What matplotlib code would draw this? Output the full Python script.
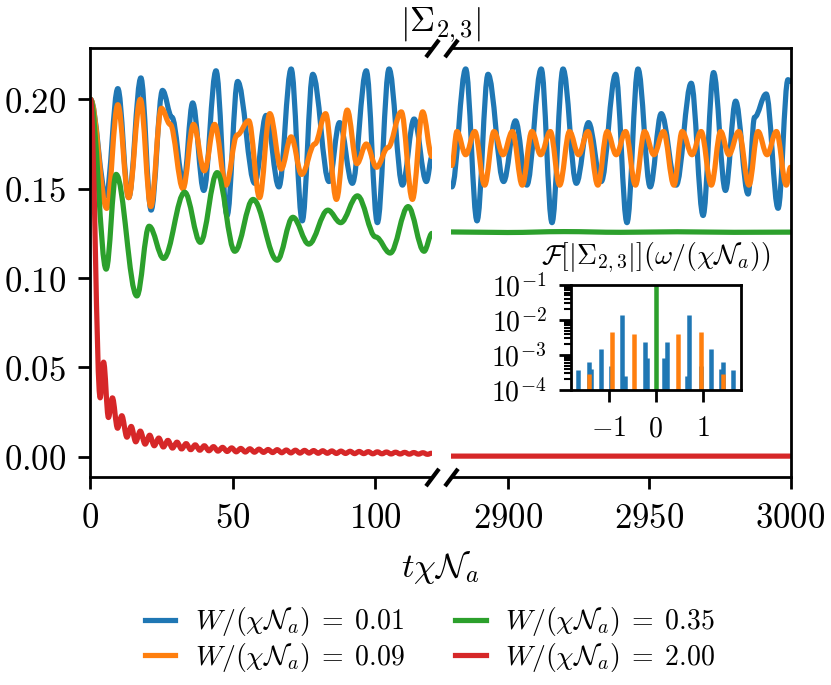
import numpy as np
import matplotlib
matplotlib.use("Agg")
import matplotlib.pyplot as plt
from matplotlib.path import Path
from matplotlib.patches import PathPatch
from matplotlib.lines import Line2D
from matplotlib.ticker import FixedLocator, FuncFormatter, LogLocator, NullFormatter

plt.rcParams["mathtext.fontset"] = "cm"
plt.rcParams["font.size"] = 10

colors = ["#1f77b4", "#ff7f0e", "#2ca02c", "#d62728"]
labels = [
    r"$W/(\chi\mathcal{N}_a) \;=\; 0.01$",
    r"$W/(\chi\mathcal{N}_a) \;=\; 0.09$",
    r"$W/(\chi\mathcal{N}_a) \;=\; 0.35$",
    r"$W/(\chi\mathcal{N}_a) \;=\; 2.00$",
]

# early times (turning points)
blue_t = [0, 5.5, 9.6, 13.4, 17.7, 21.3, 25.3, 28.6, 32.7, 35.9, 39.8, 44.1, 48.0, 51.7, 57.7,
          61.7, 66.2, 70.5, 74.4, 78.1, 83.8, 87.5, 92.0, 96.9, 100.8, 104.9, 109.6, 113.7, 118.0, 120]
blue_y = [0.200, 0.146, 0.206, 0.145, 0.212, 0.138, 0.205, 0.190, 0.153, 0.198, 0.149, 0.216, 0.135, 0.210, 0.153,
          0.191, 0.151, 0.217, 0.132, 0.214, 0.154, 0.187, 0.153, 0.216, 0.131, 0.217, 0.152, 0.189, 0.154, 0.168]

orange_t = [0, 5.7, 9.6, 13.4, 17.5, 21.2, 24.9, 28.0, 32.5, 36.2, 40.0, 43.6, 47.6, 51.5, 55.6,
            59.4, 63.0, 67.0, 70.5, 74.2, 78.8, 82.6, 86.4, 90.2, 93.6, 96.9, 100.5, 104.5, 109.2,
            113.1, 116.7, 120]
orange_y = [0.200, 0.139, 0.197, 0.145, 0.200, 0.140, 0.195, 0.186, 0.150, 0.186, 0.160, 0.186, 0.152, 0.180, 0.188,
            0.145, 0.192, 0.161, 0.179, 0.158, 0.175, 0.192, 0.144, 0.194, 0.164, 0.175, 0.162, 0.173, 0.193,
            0.144, 0.193, 0.168]

green_t = [0, 5.5, 9.0, 16.3, 20.6, 25.7, 33.1, 38.6, 44.5, 50.7, 57.1, 65.6, 71.1, 76.7, 83.4,
           87.9, 93.8, 100.2, 105.3, 111.6, 117.2, 120]
green_y = [0.200, 0.105, 0.158, 0.090, 0.129, 0.111, 0.148, 0.120, 0.159, 0.115, 0.144, 0.110, 0.134, 0.119, 0.138,
           0.131, 0.146, 0.123, 0.114, 0.140, 0.115, 0.125]

red_t = [0, 3.4, 4.6, 6.3, 7.7, 9.5, 11.0, 12.8, 14.3, 15.9, 17.5, 19.2, 20.8, 22.4, 24.0, 25.6, 27.2,
         28.8, 30.4, 32.0, 33.6, 35.2, 36.8, 38.4, 40.0, 41.6, 43.2, 44.8, 46.4, 48.0, 49.6, 51.2,
         52.8, 54.4, 56.0, 57.6, 59.2, 60.8, 62.4, 64.0, 65.6, 67.2, 68.8, 70.4, 72.0, 73.6, 75.2,
         76.8, 78.4, 80.0, 81.6, 83.2, 84.8, 86.4, 88.0, 89.6, 91.2, 92.8, 94.4, 96.0, 97.6, 99.2,
         100.8, 102.4, 104.0, 105.6, 107.2, 108.8, 110.4, 112.0, 113.6, 115.2, 116.8, 118.4, 119.8]
red_y = [0.200, 0.033, 0.053, 0.022, 0.033, 0.016, 0.023, 0.011, 0.017, 0.0084, 0.0144, 0.0071, 0.0121,
         0.0062, 0.0105, 0.0055, 0.0092, 0.0049, 0.0082, 0.0044, 0.0074, 0.0040, 0.0067, 0.0037, 0.0062,
         0.0034, 0.0057, 0.0032, 0.0053, 0.0030, 0.0050, 0.0028, 0.0047, 0.0027, 0.0045, 0.0026, 0.0043,
         0.0025, 0.0041, 0.0024, 0.0040, 0.0023, 0.0038, 0.0022, 0.0037, 0.0021, 0.0036, 0.0021, 0.0035,
         0.0020, 0.0034, 0.0020, 0.0033, 0.0019, 0.0032, 0.0019, 0.0031, 0.0018, 0.0030, 0.0018, 0.0029,
         0.0017, 0.0028, 0.0017, 0.0027, 0.0016, 0.0026, 0.0016, 0.0025, 0.0015, 0.0024, 0.0015, 0.0023,
         0.0014, 0.0020]

# late times
blue_t_late = [2880.3, 2885.2, 2889.2, 2893.1, 2898.6, 2902.8, 2906.8, 2911.9, 2915.7, 2919.6, 2924.3,
               2928.6, 2933.1, 2938.2, 2942.2, 2946.1, 2950.4, 2954.3, 2959.6, 2964.9, 2969.1, 2972.8,
               2977.0, 2980.6, 2985.0, 2987.3, 2991.4, 2995.6, 2999.1, 3000]
blue_y_late = [0.151, 0.217, 0.132, 0.214, 0.154, 0.188, 0.152, 0.217, 0.131, 0.217, 0.153,
               0.187, 0.154, 0.214, 0.131, 0.217, 0.151, 0.192, 0.152, 0.209, 0.135, 0.215,
               0.149, 0.199, 0.147, 0.190, 0.203, 0.139, 0.211, 0.210]

orange_t_late = [2880.3, 2882.1, 2885.2, 2888.4, 2891.9, 2895.2, 2898.4, 2901.7, 2905.2, 2908.6, 2911.7,
                 2915.1, 2918.4, 2921.9, 2925.1, 2928.4, 2931.9, 2935.2, 2938.4, 2941.7, 2945.2, 2948.4,
                 2951.7, 2955.1, 2958.8, 2961.7, 2965.2, 2968.4, 2972.0, 2975.3, 2978.2, 2981.7, 2985.3,
                 2988.5, 2991.7, 2995.0, 2998.5, 3000]
orange_y_late = [0.163, 0.182, 0.169, 0.182, 0.152, 0.182, 0.169, 0.182, 0.152, 0.182, 0.169,
                 0.182, 0.152, 0.182, 0.169, 0.182, 0.152, 0.182, 0.169, 0.182, 0.152, 0.182,
                 0.169, 0.182, 0.152, 0.182, 0.169, 0.182, 0.152, 0.182, 0.169, 0.182, 0.152,
                 0.182, 0.169, 0.182, 0.152, 0.162]

green_t_late = [2880, 2900, 2920, 2940, 2960, 2980, 3000]
green_y_late = [0.1258, 0.1255, 0.1260, 0.1256, 0.1259, 0.1256, 0.1257]

red_t_late = [2880, 3000]
red_y_late = [0.0004, 0.0004]

# spectrum peaks (inset)
blue_freq = [-1.645, -1.43, -1.38, -1.17, -0.96, -0.71, -0.66, -0.234, -0.18,
             0.18, 0.234, 0.66, 0.71, 0.96, 1.17, 1.38, 1.43, 1.645]
blue_amp = [3.7e-4, 6.4e-4, 3.9e-4, 1.5e-3, 4.7e-4, 1.4e-2, 2.5e-4, 2.4e-3, 8.0e-4,
            8.0e-4, 2.4e-3, 2.5e-4, 1.4e-2, 4.7e-4, 1.5e-3, 3.9e-4, 6.4e-4, 3.7e-4]
orange_freq = [-1.42, -0.936, -0.46, 0.48, 0.957, 1.42]
orange_amp = [2.9e-4, 4.6e-3, 3.9e-3, 3.9e-3, 4.6e-3, 2.9e-4]
green_freq = [0.0]
green_amp = [1.0]


def smooth_curve(ax, t, y, color, lw=1.5):
    # cubic pieces with flat tangents at every turning point
    t = np.asarray(t, float)
    y = np.asarray(y, float)
    verts = [(t[0], y[0])]
    codes = [Path.MOVETO]
    for i in range(len(t) - 1):
        dt = (t[i + 1] - t[i]) * 0.364
        verts += [(t[i] + dt, y[i]), (t[i + 1] - dt, y[i + 1]), (t[i + 1], y[i + 1])]
        codes += [Path.CURVE4] * 3
    ax.add_patch(PathPatch(Path(verts, codes), fill=False, edgecolor=color, lw=lw,
                           capstyle="round", joinstyle="round"))


fig = plt.figure(figsize=(831 / 250, 685 / 250), dpi=250)
ax1 = fig.add_axes([0.1089, 0.3036, 0.4110, 0.6263])
ax2 = fig.add_axes([0.5427, 0.3036, 0.4086, 0.6263])

early = [(blue_t, blue_y), (orange_t, orange_y), (green_t, green_y), (red_t, red_y)]
late = [(blue_t_late, blue_y_late), (orange_t_late, orange_y_late),
        (green_t_late, green_y_late), (red_t_late, red_y_late)]
for (t, y), c in zip(early, colors):
    smooth_curve(ax1, t, y, c)
for (t, y), c in zip(late, colors):
    smooth_curve(ax2, t, y, c)

ylim = (-0.0113, 0.2287)
ax1.set_xlim(0, 120)
ax2.set_xlim(2880, 3000)
for ax in (ax1, ax2):
    ax.set_ylim(*ylim)
    ax.xaxis.set_major_formatter(FuncFormatter(lambda v, p: f"${v:g}$"))
ax1.xaxis.set_major_locator(FixedLocator([0, 50, 100]))
ax2.xaxis.set_major_locator(FixedLocator([2900, 2950, 3000]))
ax1.yaxis.set_major_locator(FixedLocator([0.0, 0.05, 0.10, 0.15, 0.20]))
ax1.yaxis.set_major_formatter(FuncFormatter(lambda v, p: f"${v:.2f}$"))

ax1.spines["right"].set_visible(False)
ax2.spines["left"].set_visible(False)
ax2.tick_params(axis="y", left=False, labelleft=False)

# broken axis marks
brk = dict(marker=[(-0.75, -1), (0.75, 1)], markersize=5, linestyle="none",
           color="k", mec="k", mew=1.2, clip_on=False)
ax1.plot([1, 1], [0, 1], transform=ax1.transAxes, **brk)
ax2.plot([0, 0], [0, 1], transform=ax2.transAxes, **brk)

fig.text(0.530, 0.9635, r"$\left|\Sigma_{2,3}\right|$", ha="center", va="center", fontsize=10)
fig.text(0.530, 0.172, r"$t\chi\mathcal{N}_a$", ha="center", va="center", fontsize=10)

# inset spectrum
axi = fig.add_axes([0.6868, 0.4307, 0.2049, 0.1533])
axi.vlines(blue_freq, 1e-5, blue_amp, color=colors[0], lw=1.3)
axi.vlines(orange_freq, 1e-5, orange_amp, color=colors[1], lw=1.3)
axi.vlines(green_freq, 1e-5, green_amp, color=colors[2], lw=1.3)
axi.set_yscale("log")
axi.set_xlim(-1.81, 1.81)
axi.set_ylim(1e-4, 1e-1)
axi.xaxis.set_major_locator(FixedLocator([-1, 0, 1]))
axi.xaxis.set_major_formatter(FuncFormatter(lambda v, p: f"${v:g}$"))
axi.yaxis.set_major_locator(FixedLocator([1e-4, 1e-3, 1e-2, 1e-1]))
axi.yaxis.set_major_formatter(FuncFormatter(lambda v, p: f"$10^{{{int(round(np.log10(v)))}}}$"))
axi.yaxis.set_minor_locator(LogLocator(base=10, subs=np.arange(2, 10)))
axi.yaxis.set_minor_formatter(NullFormatter())
axi.tick_params(labelsize=8)
axi.set_title(r"$\mathcal{F}[\left|\Sigma_{2,3}\right|](\omega/(\chi\mathcal{N}_a))$", fontsize=8, pad=6)

handles = [Line2D([], [], color=c, lw=1.5) for c in colors]
fig.legend(handles, labels, loc="center", bbox_to_anchor=(0.5175, 0.066), ncol=2, frameon=False,
           fontsize=8, handlelength=1.1, handletextpad=0.7, columnspacing=1.8, labelspacing=0.1)

fig.savefig("out.png", dpi=250)
